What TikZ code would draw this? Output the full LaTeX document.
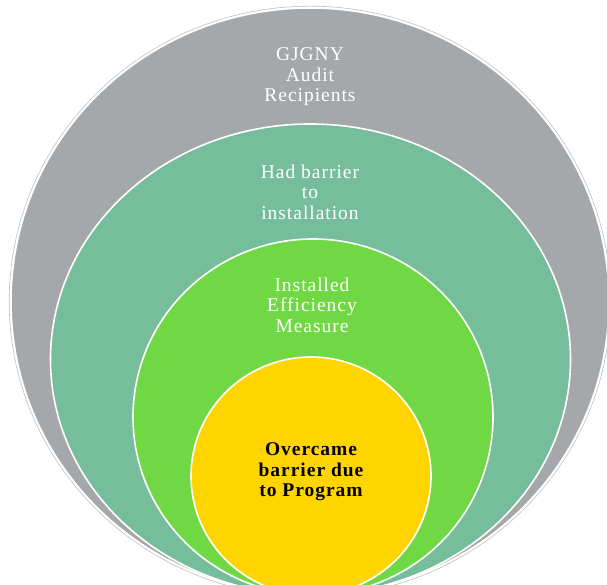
\documentclass[tikz,border=0pt]{standalone}
\usepackage{fontspec}
\setmainfont{Liberation Serif}[LetterSpace=5]

\definecolor{auditgray}{RGB}{165,168,171}
\definecolor{barrierteal}{RGB}{118,189,156}
\definecolor{installgreen}{RGB}{113,216,69}
\definecolor{overyellow}{RGB}{255,213,0}

\begin{document}
\begin{tikzpicture}[x=1pt, y=1pt, font=\fontsize{19.5}{20.5}\selectfont,
    ring/.style={draw=white, line width=1.6pt},
    ringlabel/.style={align=center, text=white}]
    \useasboundingbox (0,0) rectangle (607,585);
    \clip (0,0) rectangle (607,585);
    % faint outline round the outer ring
    \draw[black!25, line width=0.6pt] (310,283.5) ellipse [x radius=300.8, y radius=295.3];
    \foreach \cx/\cy/\rx/\ry/\c in {310/283.5/299/293.5/auditgray,
        310.5/225.5/260/235.5/barrierteal,
        313/168/180/178/installgreen,
        311/109/120/119/overyellow} {
        \filldraw[ring, fill=\c] (\cx,\cy) ellipse [x radius=\rx, y radius=\ry];
    }
    \node[ringlabel] (audit) at (310,508) {GJGNY\\Audit\\Recipients};
    \node[ringlabel] (barrier) at (310,393) {Had barrier\\to\\installation};
    \node[ringlabel] (installed) at (312,280) {Installed\\Efficiency\\Measure};
    \node[align=center, font=\fontsize{19.5}{20.5}\selectfont\bfseries] (overcame) at (311,113)
        {Overcame\\barrier due\\to Program};
\end{tikzpicture}
\end{document}
